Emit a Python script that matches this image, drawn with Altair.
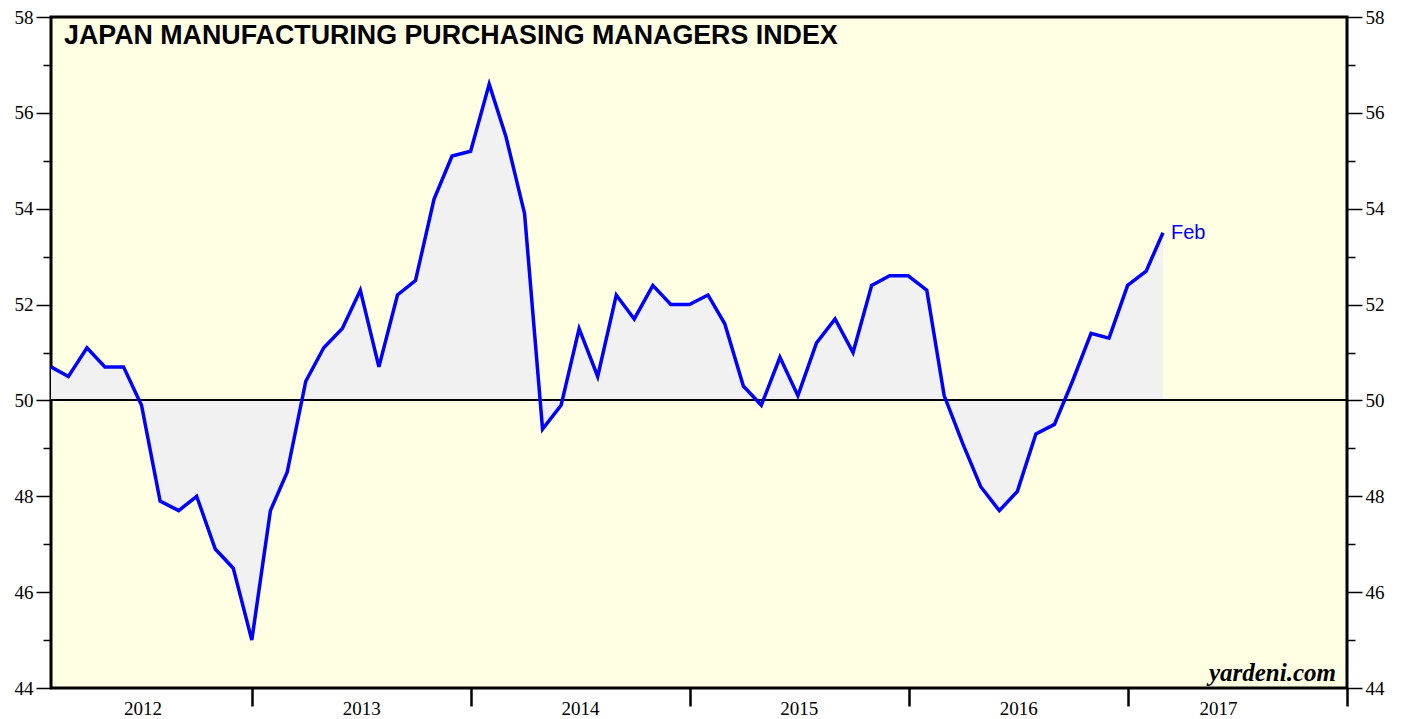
import altair as alt
import pandas as pd

pmi = [
    50.7, 50.5, 51.1, 50.7, 50.7, 49.9, 47.9, 47.7, 48.0, 46.9, 46.5, 45.0,
    47.7, 48.5, 50.4, 51.1, 51.5, 52.3, 50.7, 52.2, 52.5, 54.2, 55.1, 55.2,
    56.6, 55.5, 53.9, 49.4, 49.9, 51.5, 50.5, 52.2, 51.7, 52.4, 52.0, 52.0,
    52.2, 51.6, 50.3, 49.9, 50.9, 50.1, 51.2, 51.7, 51.0, 52.4, 52.6, 52.6,
    52.3, 50.1, 49.1, 48.2, 47.7, 48.1, 49.3, 49.5, 50.4, 51.4, 51.3, 52.4,
    52.7, 53.5,
]
dates = [d.strftime("%Y-%m-%d") for d in pd.date_range("2012-01-31", periods=len(pmi), freq="ME")]
year_ticks = [2013, 2014, 2015, 2016, 2017, 2018]
y_ticks = list(range(44, 59))
last_label = "Feb"
title_text = "JAPAN MANUFACTURING PURCHASING MANAGERS INDEX"
source_text = "yardeni.com"

df = pd.DataFrame({"date": dates, "pmi": pmi})
df_last = df.tail(1).assign(label=last_label)

W, H = 1296, 671
SERIF = "Liberation Serif"
SANS = "Liberation Sans"

x_enc = alt.X(
    "date:T",
    scale=alt.Scale(type="utc", domain=[alt.DateTime(year=2012, month=1, date=31, utc=True),
                                        alt.DateTime(year=2018, month=1, date=1, utc=True)]),
    axis=alt.Axis(
        values=[alt.DateTime(year=y, month=1, date=1, utc=True) for y in year_ticks],
        labelExpr="utcFormat(datum.value - 1, '%Y')",
        labelOffset=-110,
        labelPadding=-7,
        tickSize=18, tickWidth=2.5, tickColor="black",
        domain=False, grid=False, title=None,
        labelFont=SERIF, labelFontSize=19, labelColor="black",
    ),
)

y_scale = alt.Scale(domain=[44, 58], nice=False, zero=False)

def y_axis(orient):
    return alt.Axis(
        orient=orient,
        values=y_ticks,
        labelExpr="datum.value % 2 == 0 ? datum.label : ''",
        tickSize=alt.condition("datum.value % 2 == 0", alt.value(15), alt.value(8)),
        tickWidth=1.5, tickColor="black",
        domain=False, grid=False, title=None,
        labelFont=SERIF, labelFontSize=19, labelColor="black", labelPadding=3,
    )

base = alt.Chart(df)

area = base.mark_area(color="#f1f1f1").encode(
    x=x_enc,
    y=alt.Y("pmi:Q", scale=y_scale, axis=y_axis("left")),
    y2=alt.datum(50),
)

rule50 = base.mark_rule(color="black", strokeWidth=1).encode(
    y=alt.datum(50, scale=y_scale, axis=None),
)

line = base.mark_line(color="#0000ff", strokeWidth=3.5).encode(
    x=x_enc,
    y=alt.Y("pmi:Q", scale=y_scale, axis=y_axis("right")),
)

feb = alt.Chart(df_last).mark_text(
    align="left", baseline="middle", dx=8, font=SANS, fontSize=20, color="#0000ff"
).encode(
    x=x_enc,
    y=alt.Y("pmi:Q", scale=y_scale, axis=None),
    text="label:N",
)

title = alt.Chart(pd.DataFrame({"t": [title_text]})).mark_text(
    align="left", baseline="alphabetic", font=SANS, fontSize=26.8, fontWeight="bold", color="black"
).encode(x=alt.value(13), y=alt.value(27), text="t:N")

source = alt.Chart(pd.DataFrame({"t": [source_text]})).mark_text(
    align="right", baseline="alphabetic", font=SERIF, fontSize=25, fontWeight="bold",
    fontStyle="italic", color="black"
).encode(x=alt.value(W - 11), y=alt.value(H - 7), text="t:N")

chart = alt.layer(area, rule50, line, feb, title, source).resolve_axis(
    y="independent"
).properties(
    width=W, height=H,
    padding={"left": 6, "top": 0, "right": 5, "bottom": 0},
    background="white",
).configure_view(
    fill="#ffffe4", stroke="black", strokeWidth=3
)

chart.save("out.html", embed_options={"renderer": "svg", "actions": False})
